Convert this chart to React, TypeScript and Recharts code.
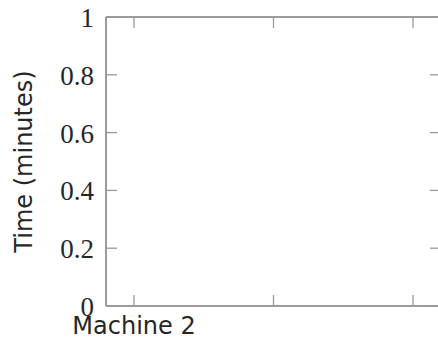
import React from "react";
import { LineChart, Line, XAxis, YAxis } from "recharts";

// Category tick labels along the horizontal axis
const machines: string[] = ["Machine 2", "", ""];
// Recorded times per machine (minutes); no measurements present
const times: (number | null)[] = [null, null, null];
// Vertical axis ticks
const yTicks: number[] = [0, 0.2, 0.4, 0.6, 0.8, 1];

const data = machines.map((m, i) => ({ slot: i, label: m, time: times[i] }));

const AXIS = "#7a7a7a";
const TICK = "#9a9a9a";
const TEXT = "#262626";
const TICK_LEN = 11;

const LeftTick = (props: any) => {
  const { x, y, payload } = props;
  return (
    <g>
      <line x1={x} y1={y} x2={x + TICK_LEN} y2={y} stroke={TICK} strokeWidth={1.3} />
      <text
        x={x - 12}
        y={y + 10}
        textAnchor="end"
        fontFamily="'Liberation Serif', serif"
        fontSize={27}
        fill={TEXT}
      >
        {String(payload.value)}
      </text>
    </g>
  );
};

const RightTick = (props: any) => {
  const { x, y } = props;
  return <line x1={x} y1={y} x2={x - TICK_LEN} y2={y} stroke={TICK} strokeWidth={1.3} />;
};

const BottomTick = (props: any) => {
  const { x, y, payload } = props;
  return (
    <g>
      <line x1={x} y1={y} x2={x} y2={y - TICK_LEN} stroke={TICK} strokeWidth={1.3} />
      <text
        x={x}
        y={y + 28}
        textAnchor="middle"
        fontFamily="'DejaVu Sans', sans-serif"
        fontSize={24}
        fill={TEXT}
      >
        {machines[payload.value] ?? ""}
      </text>
    </g>
  );
};

const TopTick = (props: any) => {
  const { x, y } = props;
  return <line x1={x} y1={y} x2={x} y2={y + TICK_LEN} stroke={TICK} strokeWidth={1.3} />;
};

const YTitle = (props: any) => {
  const vb = props.viewBox || {};
  const cx = (vb.x ?? 105) + (vb.width ?? 1) - 82;
  const cy = (vb.y ?? 17) + (vb.height ?? 289) / 2;
  return (
    <text
      x={cx}
      y={cy}
      transform={`rotate(-90 ${cx} ${cy})`}
      textAnchor="middle"
      dominantBaseline="central"
      fontFamily="'DejaVu Sans', sans-serif"
      fontSize={24}
      fill={TEXT}
    >
      Time (minutes)
    </text>
  );
};

export default function App() {
  return (
    <div
      style={{
        position: "absolute",
        left: 0,
        top: 0,
        width: 438,
        height: 339,
        overflow: "hidden",
        background: "#fff",
      }}
    >
      <LineChart
        width={446}
        height={339}
        data={data}
        margin={{ top: 16, right: 4, bottom: 32, left: 105 }}
      >
        <XAxis
          xAxisId="bottom"
          dataKey="slot"
          type="category"
          orientation="bottom"
          height={1}
          padding={{ left: 28, right: 28 }}
          axisLine={{ stroke: AXIS, strokeWidth: 1.5 }}
          tickLine={false}
          tickSize={0}
          tickMargin={0}
          interval={0}
          tick={<BottomTick />}
        />
        <XAxis
          xAxisId="top"
          dataKey="slot"
          type="category"
          orientation="top"
          height={1}
          padding={{ left: 28, right: 28 }}
          axisLine={{ stroke: AXIS, strokeWidth: 1.5 }}
          tickLine={false}
          tickSize={0}
          tickMargin={0}
          interval={0}
          tick={<TopTick />}
        />
        <YAxis
          yAxisId="left"
          orientation="left"
          width={1}
          domain={[0, 1]}
          allowDataOverflow
          ticks={yTicks}
          type="number"
          axisLine={{ stroke: AXIS, strokeWidth: 1.5 }}
          tickLine={false}
          tickSize={0}
          tickMargin={0}
          interval={0}
          tick={<LeftTick />}
          label={<YTitle />}
        />
        <YAxis
          yAxisId="right"
          orientation="right"
          width={1}
          domain={[0, 1]}
          allowDataOverflow
          ticks={yTicks}
          type="number"
          axisLine={{ stroke: AXIS, strokeWidth: 1.5 }}
          tickLine={false}
          tickSize={0}
          tickMargin={0}
          interval={0}
          tick={<RightTick />}
        />
        <Line
          xAxisId="bottom"
          yAxisId="left"
          dataKey="time"
          stroke="#1f77b4"
          dot={false}
          isAnimationActive={false}
        />
      </LineChart>
    </div>
  );
}
